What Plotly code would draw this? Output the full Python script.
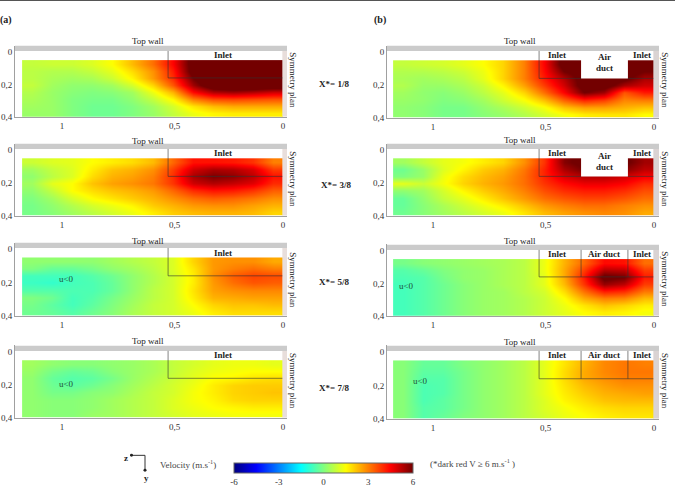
import plotly.graph_objects as go

WIDTH, HEIGHT = 675, 493
SERIF = "Liberation Serif"

# Sampling positions of the velocity fields (z/H across, y/H down); each value fills one cell
Z_POS = [1.135, 1.044, 0.953, 0.862, 0.772, 0.681, 0.59, 0.499, 0.408, 0.318, 0.227, 0.136, 0.045]
Y_POS = [0.072, 0.116, 0.159, 0.203, 0.247, 0.291, 0.334, 0.378]

# Streamwise velocity (m/s), one row per Y_POS entry
A1_V = [
    [0.8, 0.9, 0.9, 1.1, 1.5, 2.3, 3.2, 4.5, 6.5, 7, 7, 7, 7],
    [0.7, 0.6, 0.6, 0.8, 1.2, 1.9, 2.8, 4.2, 6.5, 7, 7, 7, 7],
    [0.7, 0.5, 0.4, 0.5, 0.9, 1.6, 2.7, 4.0, 6.0, 7, 7, 7, 7],
    [0.8, 0.4, 0.2, 0.2, 0.4, 1.0, 2.0, 3.5, 5.5, 6.8, 7, 7, 6.8],
    [0.6, 0.3, 0.1, 0.0, 0.1, 0.4, 1.3, 2.4, 4.4, 5.3, 5.5, 5.3, 5.0],
    [0.5, 0.3, 0.0, -0.1, -0.1, 0.2, 0.8, 1.6, 3.0, 3.6, 3.7, 3.6, 3.5],
    [0.4, 0.3, 0.0, -0.2, -0.2, 0.0, 0.4, 1.0, 1.8, 2.3, 2.5, 2.5, 2.5],
    [0.3, 0.3, 0.0, -0.2, -0.2, 0.0, 0.3, 0.8, 1.3, 1.6, 1.7, 1.7, 1.7],
]
A2_V = [
    [0.9, 1.1, 1.2, 1.5, 1.7, 1.9, 2.3, 3.3, 4.3, 4.3, 4.2, 3.9, 3.0],
    [0.4, 0.8, 1.1, 1.7, 2.2, 2.4, 2.8, 3.8, 5.0, 5.4, 5.3, 4.9, 3.8],
    [0.2, 0.7, 1.1, 1.9, 2.4, 2.6, 3.0, 4.0, 5.4, 5.9, 5.7, 5.2, 4.3],
    [0.4, 1.2, 1.5, 2.2, 2.6, 2.8, 3.1, 3.9, 5.0, 5.3, 5.1, 4.8, 4.0],
    [0.2, 0.8, 1.5, 1.9, 2.2, 2.4, 2.7, 3.3, 4.0, 4.3, 4.2, 3.9, 3.4],
    [0.0, 0.4, 1.0, 1.5, 1.8, 2.1, 2.4, 2.8, 3.2, 3.4, 3.3, 3.1, 2.8],
    [-0.1, 0.2, 0.6, 1.0, 1.3, 1.6, 2.1, 2.4, 2.7, 2.8, 2.8, 2.6, 2.4],
    [-0.1, 0.1, 0.4, 0.7, 1.0, 1.3, 1.7, 2.1, 2.3, 2.4, 2.4, 2.3, 2.0],
]
A3_V = [
    [0.2, 0.2, 0.2, 0.2, 0.4, 0.6, 0.8, 1.1, 2.0, 2.7, 2.8, 2.8, 2.5],
    [0.0, -0.3, -0.3, -0.1, 0.2, 0.4, 0.7, 1.1, 1.8, 2.7, 3.0, 3.2, 3.0],
    [-0.7, -0.7, -0.7, -0.5, -0.2, 0.2, 0.6, 1.0, 1.7, 2.8, 3.4, 3.7, 3.6],
    [-0.8, -0.9, -0.7, -0.6, -0.3, 0.2, 0.6, 1.0, 1.7, 2.7, 3.2, 3.5, 3.4],
    [-0.5, -0.5, -0.6, -0.6, -0.3, 0.2, 0.7, 1.0, 1.8, 2.6, 2.8, 2.9, 2.9],
    [0.0, -0.2, -0.7, -0.5, -0.1, 0.3, 0.7, 1.0, 1.7, 2.4, 2.5, 2.6, 2.6],
    [-0.1, -0.4, -0.7, -0.4, 0.0, 0.4, 0.8, 1.0, 1.5, 2.0, 2.2, 2.2, 2.3],
    [-0.2, -0.3, -0.5, -0.2, 0.1, 0.5, 0.8, 1.0, 1.3, 1.7, 1.9, 1.9, 1.9],
]
A4_V = [
    [0.4, 0.2, 0.1, 0.1, 0.2, 0.3, 0.5, 0.8, 1.0, 1.2, 1.3, 1.3, 1.2],
    [0.3, -0.1, -0.3, -0.2, 0.1, 0.3, 0.5, 0.8, 1.1, 1.3, 1.4, 1.5, 1.5],
    [0.2, -0.3, -0.5, -0.4, -0.1, 0.3, 0.6, 0.9, 1.2, 1.5, 1.6, 1.8, 1.9],
    [0.2, -0.2, -0.4, -0.2, 0.1, 0.4, 0.7, 1.0, 1.3, 1.7, 2.0, 2.1, 2.1],
    [0.2, -0.1, -0.1, 0.1, 0.2, 0.5, 0.8, 1.0, 1.4, 1.7, 2.0, 2.1, 2.2],
    [0.2, 0.1, 0.1, 0.2, 0.4, 0.6, 0.8, 1.1, 1.4, 1.6, 1.9, 2.0, 2.0],
    [0.2, 0.1, 0.1, 0.2, 0.4, 0.6, 0.8, 1.1, 1.3, 1.5, 1.6, 1.7, 1.7],
    [0.2, 0.1, 0.1, 0.3, 0.4, 0.6, 0.8, 1.0, 1.2, 1.3, 1.4, 1.4, 1.4],
]
B1_V = [
    [0.8, 0.9, 1.0, 1.2, 1.5, 2.0, 3.0, 4.5, 6.5, 6.5, 6.5, 6.5, 6.2],
    [0.6, 0.6, 0.7, 0.9, 1.3, 2.0, 3.0, 4.4, 6.0, 6.5, 6.5, 6.5, 6.0],
    [0.5, 0.4, 0.5, 0.7, 1.2, 2.0, 3.0, 4.2, 5.3, 6.5, 6.5, 6.3, 5.4],
    [0.6, 0.3, 0.3, 0.5, 0.9, 1.6, 2.6, 3.8, 5.0, 6.5, 6.5, 5.4, 5.0],
    [0.4, 0.2, 0.1, 0.3, 0.7, 1.2, 2.0, 3.2, 4.5, 6.0, 5.5, 3.5, 4.2],
    [0.3, 0.2, 0.0, 0.1, 0.4, 0.9, 1.4, 2.2, 3.3, 4.0, 3.7, 2.9, 3.0],
    [0.2, 0.1, -0.1, -0.1, 0.2, 0.5, 0.9, 1.4, 2.2, 2.6, 2.6, 2.4, 2.2],
    [0.2, 0.1, -0.1, -0.1, 0.1, 0.3, 0.6, 1.0, 1.4, 1.7, 1.8, 1.8, 1.5],
]
B2_V = [
    [0.4, 0.8, 1.2, 1.4, 1.7, 2.0, 2.8, 3.9, 5.8, 6.3, 6.0, 6.2, 5.5],
    [-0.2, 0.3, 1.1, 1.6, 2.1, 2.4, 3.1, 4.1, 5.4, 6.0, 6.0, 5.8, 5.2],
    [0.0, 0.3, 1.3, 1.9, 2.3, 2.6, 3.2, 4.1, 4.9, 5.3, 5.3, 5.0, 4.6],
    [1.2, 0.9, 1.4, 2.0, 2.4, 2.7, 3.2, 3.9, 4.4, 4.7, 4.7, 4.5, 4.0],
    [0.2, 0.4, 1.0, 1.6, 2.1, 2.5, 3.0, 3.6, 4.0, 4.2, 4.2, 4.0, 3.6],
    [-0.3, 0.2, 0.8, 1.2, 1.7, 2.2, 2.7, 3.2, 3.5, 3.7, 3.7, 3.5, 3.2],
    [-0.3, 0.1, 0.5, 0.9, 1.3, 1.7, 2.2, 2.7, 3.0, 3.2, 3.2, 3.0, 2.8],
    [-0.2, 0.1, 0.4, 0.7, 1.0, 1.3, 1.8, 2.3, 2.6, 2.8, 2.9, 2.8, 2.5],
]
B3_V = [
    [-0.1, 0.1, 0.2, 0.3, 0.4, 0.5, 0.7, 1.3, 2.4, 3.3, 4.4, 4.3, 3.2],
    [-0.5, -0.3, 0.0, 0.2, 0.3, 0.5, 0.7, 1.3, 2.5, 3.8, 5.3, 5.2, 3.8],
    [-0.6, -0.5, -0.1, 0.2, 0.3, 0.5, 0.7, 1.2, 2.5, 4.2, 6.3, 6.0, 4.2],
    [-0.7, -0.5, -0.2, 0.1, 0.3, 0.5, 0.7, 1.2, 2.3, 3.9, 5.6, 5.2, 3.8],
    [-0.7, -0.5, -0.2, 0.1, 0.3, 0.4, 0.7, 1.0, 1.9, 3.2, 4.2, 4.0, 3.1],
    [-0.7, -0.5, -0.2, 0.1, 0.3, 0.4, 0.6, 0.9, 1.5, 2.5, 3.0, 2.9, 2.3],
    [-0.7, -0.5, -0.2, 0.1, 0.3, 0.4, 0.6, 0.9, 1.3, 1.8, 2.2, 2.0, 1.7],
    [-0.7, -0.5, -0.2, 0.1, 0.3, 0.4, 0.6, 0.9, 1.2, 1.5, 1.7, 1.6, 1.4],
]
B4_V = [
    [0.1, -0.3, -0.3, 0.0, 0.2, 0.4, 0.7, 1.2, 1.8, 2.4, 2.9, 3.1, 3.0],
    [0.1, -0.4, -0.4, -0.1, 0.2, 0.4, 0.7, 1.2, 1.9, 2.5, 2.9, 3.1, 3.1],
    [0.1, -0.5, -0.5, -0.1, 0.2, 0.4, 0.7, 1.2, 1.9, 2.5, 2.8, 3.0, 3.0],
    [0.1, -0.6, -0.5, -0.1, 0.2, 0.4, 0.7, 1.2, 1.8, 2.3, 2.6, 2.8, 2.8],
    [0.1, -0.6, -0.5, -0.1, 0.2, 0.4, 0.7, 1.2, 1.7, 2.1, 2.4, 2.5, 2.6],
    [0.1, -0.6, -0.4, -0.1, 0.2, 0.4, 0.7, 1.1, 1.6, 1.9, 2.2, 2.3, 2.3],
    [0.1, -0.5, -0.4, -0.1, 0.2, 0.4, 0.7, 1.1, 1.4, 1.7, 1.9, 2.0, 2.0],
    [0.1, -0.5, -0.3, 0.0, 0.2, 0.4, 0.7, 1.0, 1.3, 1.5, 1.7, 1.8, 1.8],
]

# Axis ticks and labels
Z_TICKS = [1, 0.49, 0]
Z_LABELS = ["1", "0,5", "0"]
Y_TICKS = [0, 0.2, 0.4]
Y_LABELS = ["0", "0,2", "0,4"]
CBAR_TICKS = [-6, -3, 0, 3, 6]
CBAR_LABELS = ["-6", "-3", "0", "3", "6"]
PLANE_LABELS = ["X*= 1/8", "X*= 3/8", "X*= 5/8", "X*= 7/8"]

JET = [
    [0.0, "rgb(0,0,128)"], [0.125, "rgb(0,0,255)"], [0.375, "rgb(0,255,255)"],
    [0.5, "rgb(128,255,128)"], [0.625, "rgb(255,255,0)"], [0.875, "rgb(255,0,0)"],
    [1.0, "rgb(115,0,0)"],
]

# Panel frames in page pixels: left, right, top, bottom, duct style
# duct style: None = single inlet, "box" = white duct block, "open" = duct outlined only
INLET_EDGE = 0.52
DUCT_LEFT, DUCT_RIGHT = 0.33, 0.118
PANELS = [
    dict(v=A1_V, l=15, r=287, t=46, b=118, duct=None, zero=283, strip="#e8dedb"),
    dict(v=A2_V, l=15, r=287, t=145, b=218, duct=None, zero=283, strip="#e8dedb"),
    dict(v=A3_V, l=15, r=287, t=245, b=319, duct=None, zero=283, strip="#e8dedb"),
    dict(v=A4_V, l=15, r=287, t=349, b=422, duct=None, zero=283, strip="#e8dedb"),
    dict(v=B1_V, l=387, r=659, t=46, b=119, duct="box", zero=654, strip="#dad3d3"),
    dict(v=B2_V, l=387, r=659, t=145, b=218, duct="box", zero=654, strip="#dad3d3"),
    dict(v=B3_V, l=387, r=659, t=247, b=319, duct="open", zero=654, strip="#dad3d3"),
    dict(v=B4_V, l=387, r=659, t=349, b=423, duct="open", zero=654, strip="#dad3d3"),
]
PX_PER_Z = 221.0


def px(x):
    return x / WIDTH


def py(y):
    return 1 - y / HEIGHT


def label(x, y, text, size=9, bold=False, angle=0, color="#222222", align="center"):
    return dict(
        x=px(x), y=py(y), xref="paper", yref="paper", text=f"<b>{text}</b>" if bold else text,
        showarrow=False, textangle=angle, xanchor=align, yanchor="middle",
        font=dict(family=SERIF, size=size, color=color),
    )


fig = go.Figure()
shapes, annotations = [], []
layout = dict(
    width=WIDTH, height=HEIGHT, margin=dict(l=0, r=0, t=0, b=0),
    paper_bgcolor="white", plot_bgcolor="white", showlegend=False,
    coloraxis=dict(
        cmin=-6, cmax=6, colorscale=JET,
        colorbar=dict(
            orientation="h", lenmode="pixels", len=179, thicknessmode="pixels", thickness=10,
            x=px(234), xanchor="left", y=py(468), yanchor="top", xpad=0, ypad=0,
            tickvals=CBAR_TICKS, ticktext=CBAR_LABELS, ticks="", outlinecolor="#666666", outlinewidth=1,
            tickfont=dict(family=SERIF, size=9, color="#333333"),
        ),
    ),
)

for i, p in enumerate(PANELS, start=1):
    xname, yname = f"x{i}", f"y{i}"
    fig.add_trace(go.Heatmap(
        x=Z_POS, y=Y_POS, z=p["v"], coloraxis="coloraxis", zsmooth="best",
        xaxis=xname, yaxis=yname, hoverinfo="skip",
    ))
    z_left = (p["zero"] - p["l"]) / PX_PER_Z
    z_right = (p["zero"] - p["r"]) / PX_PER_Z
    y_scale = (p["b"] - p["t"]) / 0.44
    band_y = -0.04 + 5.5 / y_scale
    axis_font = dict(family=SERIF, size=9, color="#333333")
    layout[f"xaxis{i}"] = dict(
        domain=[px(p["l"]), px(p["r"])], range=[z_left, z_right], anchor=yname,
        tickvals=Z_TICKS, ticktext=Z_LABELS, ticks="", showgrid=False, zeroline=False,
        showline=True, linecolor="#a0a0a0", linewidth=1, tickfont=axis_font, ticklabelstandoff=0,
    )
    layout[f"yaxis{i}"] = dict(
        domain=[py(p["b"]), py(p["t"])], range=[0.4, -0.04], anchor=xname,
        tickvals=Y_TICKS, ticktext=Y_LABELS, ticks="", showgrid=False, zeroline=False,
        showline=True, linecolor="#a0a0a0", linewidth=1, tickfont=axis_font, ticklabelstandoff=0,
    )
    xr, yr = xname, yname
    # Grey top-wall band and the symmetry-plane strip
    shapes.append(dict(type="rect", xref=xr, yref=yr, x0=z_left, x1=z_right, y0=-0.04, y1=band_y,
                       fillcolor="#cbcbcb", line=dict(width=0), layer="above"))
    shapes.append(dict(type="rect", xref=xr, yref=yr, x0=0.003, x1=z_right, y0=band_y, y1=0.4,
                       fillcolor=p["strip"], line=dict(width=0), layer="above"))
    # Inlet outline
    line = dict(color="rgba(50,50,50,0.75)", width=0.8)
    if p["duct"] == "box":
        shapes.append(dict(type="rect", xref=xr, yref=yr, x0=DUCT_LEFT, x1=DUCT_RIGHT, y0=band_y, y1=0.16,
                           fillcolor="white", line=dict(width=0), layer="above"))
        shapes.append(dict(type="line", xref=xr, yref=yr, x0=INLET_EDGE, x1=DUCT_LEFT, y0=0.16, y1=0.16, line=line))
        shapes.append(dict(type="line", xref=xr, yref=yr, x0=DUCT_RIGHT, x1=0.003, y0=0.16, y1=0.16, line=line))
    else:
        shapes.append(dict(type="line", xref=xr, yref=yr, x0=INLET_EDGE, x1=0.003, y0=0.16, y1=0.16, line=line))
    shapes.append(dict(type="line", xref=xr, yref=yr, x0=INLET_EDGE, x1=INLET_EDGE, y0=band_y, y1=0.16, line=line))
    if p["duct"] == "open":
        for edge in (DUCT_LEFT, DUCT_RIGHT):
            shapes.append(dict(type="line", xref=xr, yref=yr, x0=edge, x1=edge, y0=band_y, y1=0.16, line=line))

# Panel titles and region names
annotations += [label(6, 20, "(a)", bold=True, size=10), label(380, 20, "(b)", bold=True, size=10)]
for x, ys in ((148, (41, 142, 243, 344)), (520, (41, 141, 243, 345))):
    annotations += [label(x, y, "Top wall") for y in ys]
for y in (56, 155, 256, 359):
    annotations.append(label(223, y, "Inlet", bold=True))
for y in (56, 155, 257, 359):
    annotations.append(label(557, y, "Inlet", bold=True))
    annotations.append(label(642, y, "Inlet", bold=True))
for y in (58, 158):
    annotations.append(label(604, y, "Air", bold=True))
    annotations.append(label(604, y + 11, "duct", bold=True))
for y in (257, 359):
    annotations.append(label(604, y, "Air duct", bold=True))
for x, ys in ((293, (81, 181, 283, 385)), (665, (81, 181, 282, 385))):
    annotations += [label(x, y, "Symmetry plan", angle=90) for y in ys]
for x, y, text in zip((334, 336, 334, 334), (85, 187, 285, 392), PLANE_LABELS):
    annotations.append(label(x, y, text, bold=True))
for x, y in ((66, 282), (66, 388), (406, 289), (420, 385)):
    annotations.append(label(x, y, "u<0", color="#1f4f35"))

# Colour bar captions and the axis triad
annotations += [
    label(188, 469, "Velocity (m.s<sup>-1</sup>)", color="#444444"),
    label(472, 468, "(*dark red V ≥ 6 m.s<sup>-1</sup> )", color="#444444"),
    label(126, 463, "z", bold=True), label(146, 483, "y", bold=True),
]
triad = dict(color="#333333", width=1)
shapes += [
    dict(type="line", xref="paper", yref="paper", x0=px(131), x1=px(145), y0=py(460), y1=py(460), line=triad),
    dict(type="line", xref="paper", yref="paper", x0=px(145), x1=px(145), y0=py(460), y1=py(475), line=triad),
    dict(type="circle", xref="paper", yref="paper", x0=px(130), x1=px(133), y0=py(461.5), y1=py(458.5),
         fillcolor="#222222", line=dict(width=0)),
    dict(type="circle", xref="paper", yref="paper", x0=px(143.5), x1=px(146.5), y0=py(476.5), y1=py(473.5),
         fillcolor="#222222", line=dict(width=0)),
    dict(type="rect", xref="paper", yref="paper", x0=0, x1=1, y0=py(1), y1=1,
         fillcolor="#555555", line=dict(width=0)),
]

layout["shapes"] = shapes
layout["annotations"] = annotations
fig.update_layout(**layout)
fig.write_html("out.html")
